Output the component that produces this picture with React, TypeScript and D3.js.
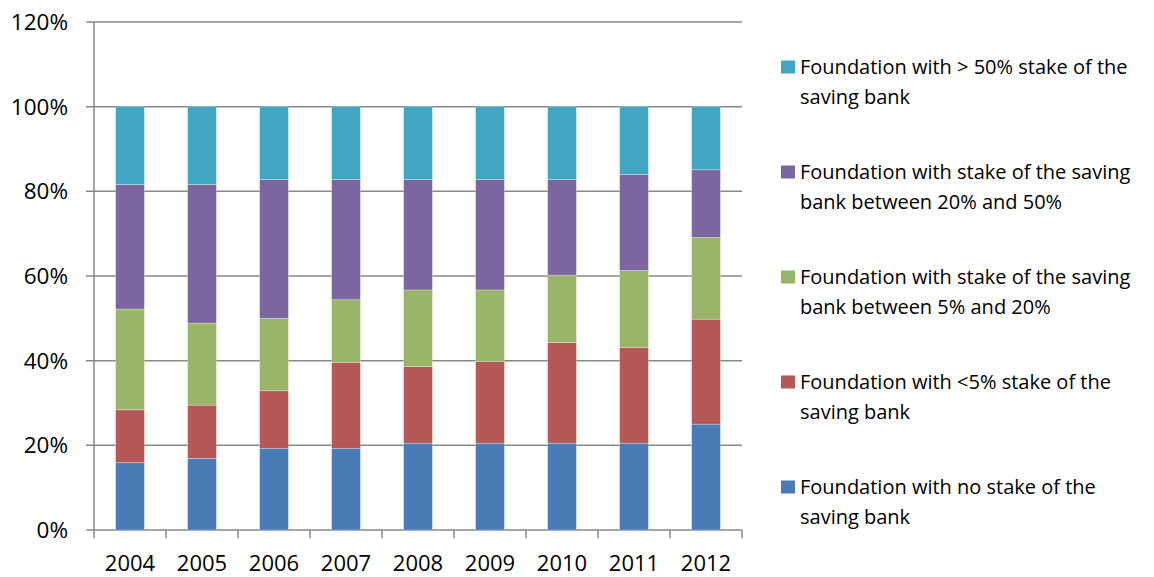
import React from "react";
import * as d3 from "d3";

const years = ["2004", "2005", "2006", "2007", "2008", "2009", "2010", "2011", "2012"];
// segment shares (%) per year, bottom to top
const noStake = [15.9, 16.9, 19.3, 19.3, 20.5, 20.5, 20.5, 20.5, 25.0];
const below5 = [12.5, 12.6, 13.6, 20.3, 18.1, 19.3, 23.8, 22.6, 24.8];
const between5and20 = [23.8, 19.4, 17.1, 14.8, 18.1, 16.9, 15.9, 18.2, 19.3];
const between20and50 = [29.4, 32.7, 32.8, 28.4, 26.1, 26.1, 22.6, 22.7, 16.0];
const above50 = [18.4, 18.4, 17.2, 17.2, 17.2, 17.2, 17.2, 16.0, 14.9];

const seriesNames = [
  ["Foundation with no stake of the", "saving bank"],
  ["Foundation with <5% stake of the", "saving bank"],
  ["Foundation with stake of the saving", "bank between 5% and 20%"],
  ["Foundation with stake of the saving", "bank between 20% and 50%"],
  ["Foundation with > 50% stake of the", "saving bank"],
];
const colors = ["#4A7BB5", "#B35757", "#98B569", "#7C66A0", "#41A6C1"];
const yTicks = [0, 20, 40, 60, 80, 100, 120];

const FONT = "'Open Sans', 'Noto Sans', sans-serif";

export default function App() {
  const width = 1154;
  const height = 577;
  const left = 94, right = 742, top = 22, bottom = 530;

  const x = d3.scaleBand().domain(years).range([left, right]).paddingInner(0.6).paddingOuter(0.3);
  const xTick = d3.scaleBand().domain(years).range([left, right]);
  const y = d3.scaleLinear().domain([0, 120]).range([bottom, top]);

  const all = [noStake, below5, between5and20, between20and50, above50];
  const table = years.map((yr, i) => {
    const o: any = { year: yr };
    all.forEach((arr, k) => (o["s" + k] = arr[i]));
    return o;
  });
  const stack = d3.stack().keys(["s0", "s1", "s2", "s3", "s4"])(table);

  const legendTop = 67;
  const legendStep = 105;

  return (
    <svg width={width} height={height} style={{ position: "absolute", left: 0, top: 0, background: "#fff" }} fontFamily={FONT}>
      <rect width={width} height={height} fill="#fff" />
      {yTicks.map((t) => (
        <g key={t}>
          <line x1={left - 8} x2={right} y1={y(t)} y2={y(t)} stroke="#878787" strokeWidth={1.5} />
          <text x={68} y={y(t)} dy="0.35em" textAnchor="end" fontSize={22.5} fill="#000">
            {t}%
          </text>
        </g>
      ))}
      <line x1={left} x2={left} y1={top} y2={bottom} stroke="#878787" strokeWidth={1.5} />
      {years.map((yr) => (
        <line key={yr} x1={(xTick(yr) as number)} x2={(xTick(yr) as number)} y1={bottom} y2={bottom + 8} stroke="#878787" strokeWidth={1.5} />
      ))}
      <line x1={right} x2={right} y1={bottom} y2={bottom + 8} stroke="#878787" strokeWidth={1.5} />
      {stack.map((s, k) => (
        <g key={k} fill={colors[k]}>
          {s.map((d: any, i: number) => (
            <rect
              key={i}
              x={x(years[i]) as number}
              width={x.bandwidth()}
              y={y(d[1])}
              height={y(d[0]) - y(d[1])}
              stroke="#ffffff"
              strokeOpacity={0.35}
              strokeWidth={0.8}
            />
          ))}
        </g>
      ))}
      {years.map((yr) => (
        <text key={yr} x={(xTick(yr) as number) + xTick.bandwidth() / 2} y={563} dy="0.35em" textAnchor="middle" fontSize={22} fill="#000">
          {yr}
        </text>
      ))}
      {seriesNames
        .map((lines, k) => ({ lines, k }))
        .reverse()
        .map(({ lines, k }, j) => {
          const cy = legendTop + j * legendStep;
          return (
            <g key={k}>
              <rect x={781} y={cy - 6.5} width={14} height={13} fill={colors[k]} />
              {lines.map((ln, li) => (
                <text key={li} x={800} y={cy + li * 30} dy="0.35em" fontSize={20} fill="#000">
                  {ln}
                </text>
              ))}
            </g>
          );
        })}
    </svg>
  );
}
